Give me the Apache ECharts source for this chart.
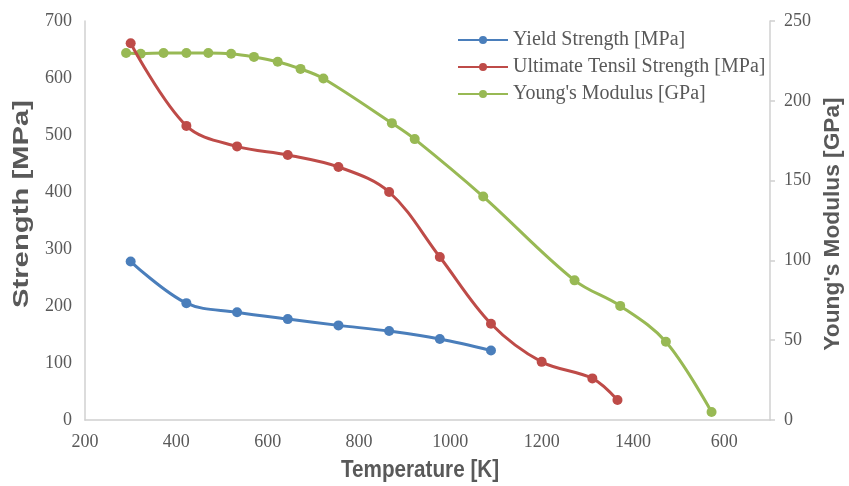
<!DOCTYPE html>
<html>
<head>
<meta charset="utf-8">
<script src="https://cdn.jsdelivr.net/npm/echarts@6/dist/echarts.min.js"></script>
<style>
html,body{margin:0;padding:0;background:#fff;}
#chart{width:849px;height:486px;}
</style>
</head>
<body>
<div id="chart"></div>
<script>
// Data (temperature in K)
var yieldTemps = [300, 422, 533, 644, 755, 866, 977, 1089];
var yieldValues = [278, 205, 189, 177, 166, 156, 142, 122];

var utsTemps = [300, 422, 533, 644, 755, 866, 977, 1089, 1200, 1311, 1366];
var utsValues = [661, 516, 480, 465, 444, 400, 286, 169, 102, 73, 35];

var modTemps = [290, 322, 372, 422, 470, 520, 570, 622, 672, 722, 872, 922, 1072, 1272, 1372, 1472, 1572];
var modValues = [230, 229.5, 230, 230, 230, 229.5, 227.5, 224.5, 220, 214, 186, 176, 140, 87.5, 71.5, 49, 5];

var xTickValues = [200, 400, 600, 800, 1000, 1200, 1400, 1600];
var xTickLabels = ['200', '400', '600', '800', '1000', '1200', '1400', '600'];

var seriesNames = ['Yield Strength [MPa]', 'Ultimate Tensil Strength [MPa]', "Young's Modulus [GPa]"];
var axisTitles = ['Temperature [K]', 'Strength [MPa]', "Young's Modulus [GPa]"];
var colors = ['#4A7EBB', '#BE4B48', '#98B954'];

function pairs(xs, ys) { return xs.map(function (x, i) { return [x, ys[i]]; }); }

var chart = echarts.init(document.getElementById('chart'), null, {renderer: 'canvas'});
var gray = '#595959';
var axisLineGray = '#D0D0D0';
var serif = '"Liberation Serif", "Times New Roman", serif';
var sans = '"Liberation Sans", Arial, sans-serif';

function mkSeries(i, data, yIdx) {
  return {
    name: seriesNames[i], type: 'line', yAxisIndex: yIdx, data: data,
    smooth: 0.35, symbol: 'circle', symbolSize: 10,
    lineStyle: {color: colors[i], width: 3},
    itemStyle: {color: colors[i]},
    z: 3 - i
  };
}

function titleText(txt, size) {
  return {text: txt, font: 'bold ' + size + 'px ' + sans, fill: gray, align: 'center', verticalAlign: 'middle'};
}

chart.setOption({
  animation: false,
  color: colors,
  grid: {left: 85, right: 79, top: 21, bottom: 66, containLabel: false},
  legend: {
    orient: 'vertical', left: 452, top: 25, itemGap: 7,
    itemWidth: 50, itemHeight: 10, itemTextGap: 2,
    textStyle: {fontFamily: serif, fontSize: 20, color: gray, lineHeight: 20},
    data: seriesNames
  },
  graphic: [
    {type: 'text', x: 420, y: 471, scaleX: 0.88, style: titleText(axisTitles[0], 23.5)},
    {type: 'text', x: 22, y: 204, rotation: Math.PI / 2, scaleX: 1.33, style: titleText(axisTitles[1], 22)},
    {type: 'text', x: 833, y: 224, rotation: Math.PI / 2, style: titleText(axisTitles[2], 22.7)}
  ],
  xAxis: {
    type: 'value', min: 200, max: 1700, interval: 200,
    axisLine: {show: true, lineStyle: {color: axisLineGray, width: 1.5}},
    axisTick: {show: false},
    splitLine: {show: false},
    axisLabel: {
      fontFamily: serif, fontSize: 18, color: gray, margin: 13, showMaxLabel: false,
      formatter: function (v) { var k = xTickValues.indexOf(v); return k >= 0 ? xTickLabels[k] : ''; }
    }
  },
  yAxis: [{
    type: 'value', min: 0, max: 700, interval: 100, position: 'left',
    axisLine: {show: true, lineStyle: {color: axisLineGray, width: 1.5}},
    axisTick: {show: false},
    splitLine: {show: false},
    axisLabel: {fontFamily: serif, fontSize: 18, color: gray, margin: 13}
  }, {
    type: 'value', min: 0, max: 250, interval: 50, position: 'right',
    axisLine: {show: true, lineStyle: {color: axisLineGray, width: 1.5}},
    axisTick: {show: true, length: 5, lineStyle: {color: axisLineGray, width: 1.5}},
    splitLine: {show: false},
    axisLabel: {fontFamily: serif, fontSize: 18, color: gray, margin: 14}
  }],
  series: [
    mkSeries(0, pairs(yieldTemps, yieldValues), 0),
    mkSeries(1, pairs(utsTemps, utsValues), 0),
    mkSeries(2, pairs(modTemps, modValues), 1)
  ]
});
</script>
</body>
</html>
